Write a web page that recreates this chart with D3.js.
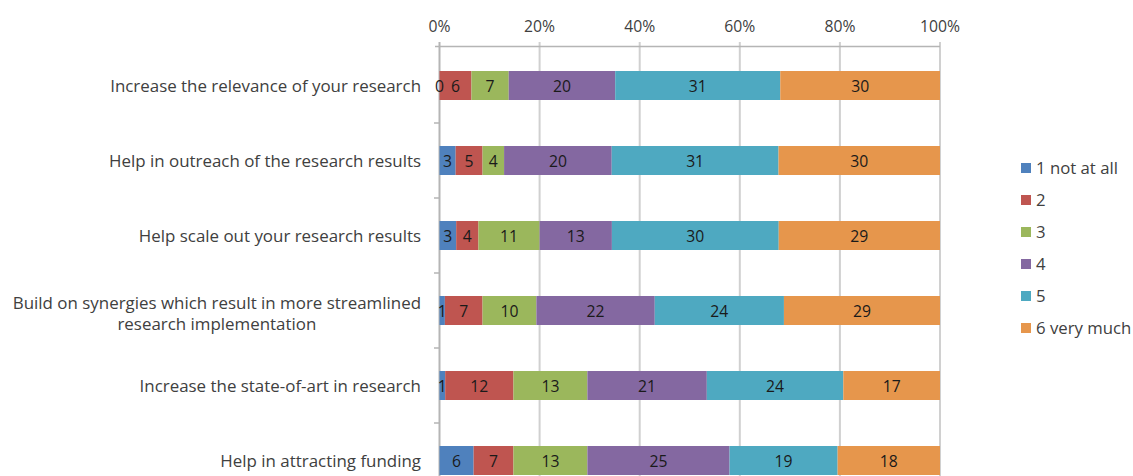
<!DOCTYPE html>
<html><head><meta charset="utf-8">
<script src="https://cdn.jsdelivr.net/npm/d3@7"></script>
<style>body{margin:0;background:#fff;} svg{display:block;}</style>
</head><body><svg id="c" width="1133" height="476"></svg>
<script>
const categories = [
  "Increase the relevance of your research",
  "Help in outreach of the research results",
  "Help scale out your research results",
  "Build on synergies which result in more streamlined|research implementation",
  "Increase the state-of-art in research",
  "Help in attracting funding"
];
const seriesNames = ["1 not at all", "2", "3", "4", "5", "6 very much"];
const s1 = [0, 3, 3, 1, 1, 6];
const s2 = [6, 5, 4, 7, 12, 7];
const s3 = [7, 4, 11, 10, 13, 13];
const s4 = [20, 20, 13, 22, 21, 25];
const s5 = [31, 31, 30, 24, 24, 19];
const s6 = [30, 30, 29, 29, 17, 18];
const tickValues = [0, 0.2, 0.4, 0.6, 0.8, 1.0];
const colors = ["#4F81BD", "#BF5550", "#9BB75C", "#8468A1", "#4EA9C1", "#E6964C"];

const series = [s1, s2, s3, s4, s5, s6];
const svg = d3.select("#c");
const FONT = "'Open Sans', 'Liberation Sans', sans-serif";

const probe = svg.append("text").attr("font-family", FONT).attr("font-size", 14).text(categories[0]);
const w0 = probe.node().getComputedTextLength();
probe.remove();
const fs = 14 * 311 / w0;

const x = d3.scaleLinear().domain([0, 1]).range([439.5, 940]);
const y = d3.scaleBand().domain(categories).range([48, 498]).padding(0);
const barH = 29;

const rows = categories.map((c, i) => {
  const vals = series.map(s => s[i]);
  const tot = d3.sum(vals);
  let acc = 0;
  return vals.map((v, k) => { const r = {cat: c, k, v, x0: acc / tot, x1: (acc + v) / tot}; acc += v; return r; });
});

svg.append("g").selectAll("line").data(tickValues).join("line")
  .attr("x1", d => x(d)).attr("x2", d => x(d))
  .attr("y1", 42).attr("y2", 476)
  .attr("stroke", d => d === 0 ? "#B5B5B5" : "#D0D0D0").attr("stroke-width", 2);

svg.append("line").attr("x1", 435).attr("x2", x(1)).attr("y1", 46.5).attr("y2", 46.5)
  .attr("stroke", "#B5B5B5").attr("stroke-width", 1.5);

svg.append("g").selectAll("text").data(tickValues).join("text")
  .attr("x", d => x(d)).attr("y", 32).attr("text-anchor", "middle")
  .attr("font-family", FONT).attr("font-size", fs * 0.93).attr("fill", "#404040")
  .text(d => d3.format(".0%")(d));

const bounds = categories.slice(1).map(c => y(c));
svg.append("g").selectAll("line").data(bounds).join("line")
  .attr("x1", 434).attr("x2", 440).attr("y1", d => d).attr("y2", d => d)
  .attr("stroke", "#B5B5B5").attr("stroke-width", 1.5);

const bandC = c => y(c) + y.bandwidth() / 2;
const g = svg.append("g");
rows.forEach(r => {
  g.append("g").selectAll("rect").data(r).join("rect")
    .attr("x", d => x(d.x0)).attr("width", d => x(d.x1) - x(d.x0))
    .attr("y", d => bandC(d.cat) - barH / 2).attr("height", barH)
    .attr("fill", d => colors[d.k]);
  g.append("g").selectAll("text").data(r).join("text")
    .attr("x", d => (x(d.x0) + x(d.x1)) / 2).attr("y", d => bandC(d.cat) + fs * 0.36)
    .attr("text-anchor", "middle").attr("font-family", FONT).attr("font-size", fs * 0.93)
    .attr("fill", "#1a1a1a").text(d => d.v);
});

categories.forEach(c => {
  const lines = c.split("|");
  const cy = bandC(c);
  if (lines.length === 1) {
    svg.append("text").attr("x", 421).attr("y", cy + fs * 0.36).attr("text-anchor", "end")
      .attr("font-family", FONT).attr("font-size", fs).attr("fill", "#404040").text(lines[0]);
  } else {
    const t1 = svg.append("text").attr("x", 421).attr("y", cy - 8 + fs * 0.36).attr("text-anchor", "end")
      .attr("font-family", FONT).attr("font-size", fs).attr("fill", "#404040").text(lines[0]);
    const w1 = t1.node().getComputedTextLength();
    svg.append("text").attr("x", 421 - w1 / 2).attr("y", cy + 13 + fs * 0.36).attr("text-anchor", "middle")
      .attr("font-family", FONT).attr("font-size", fs).attr("fill", "#404040").text(lines[1]);
  }
});

const lg = svg.append("g").selectAll("g").data(seriesNames).join("g")
  .attr("transform", (d, i) => `translate(1021, ${168 + i * 32})`);
lg.append("rect").attr("x", 0).attr("y", -5).attr("width", 10).attr("height", 10)
  .attr("fill", (d, i) => colors[i]);
lg.append("text").attr("x", 15).attr("y", fs * 0.36).attr("font-family", FONT)
  .attr("font-size", fs * 0.99).attr("fill", "#404040").text(d => d);
</script></body></html>
